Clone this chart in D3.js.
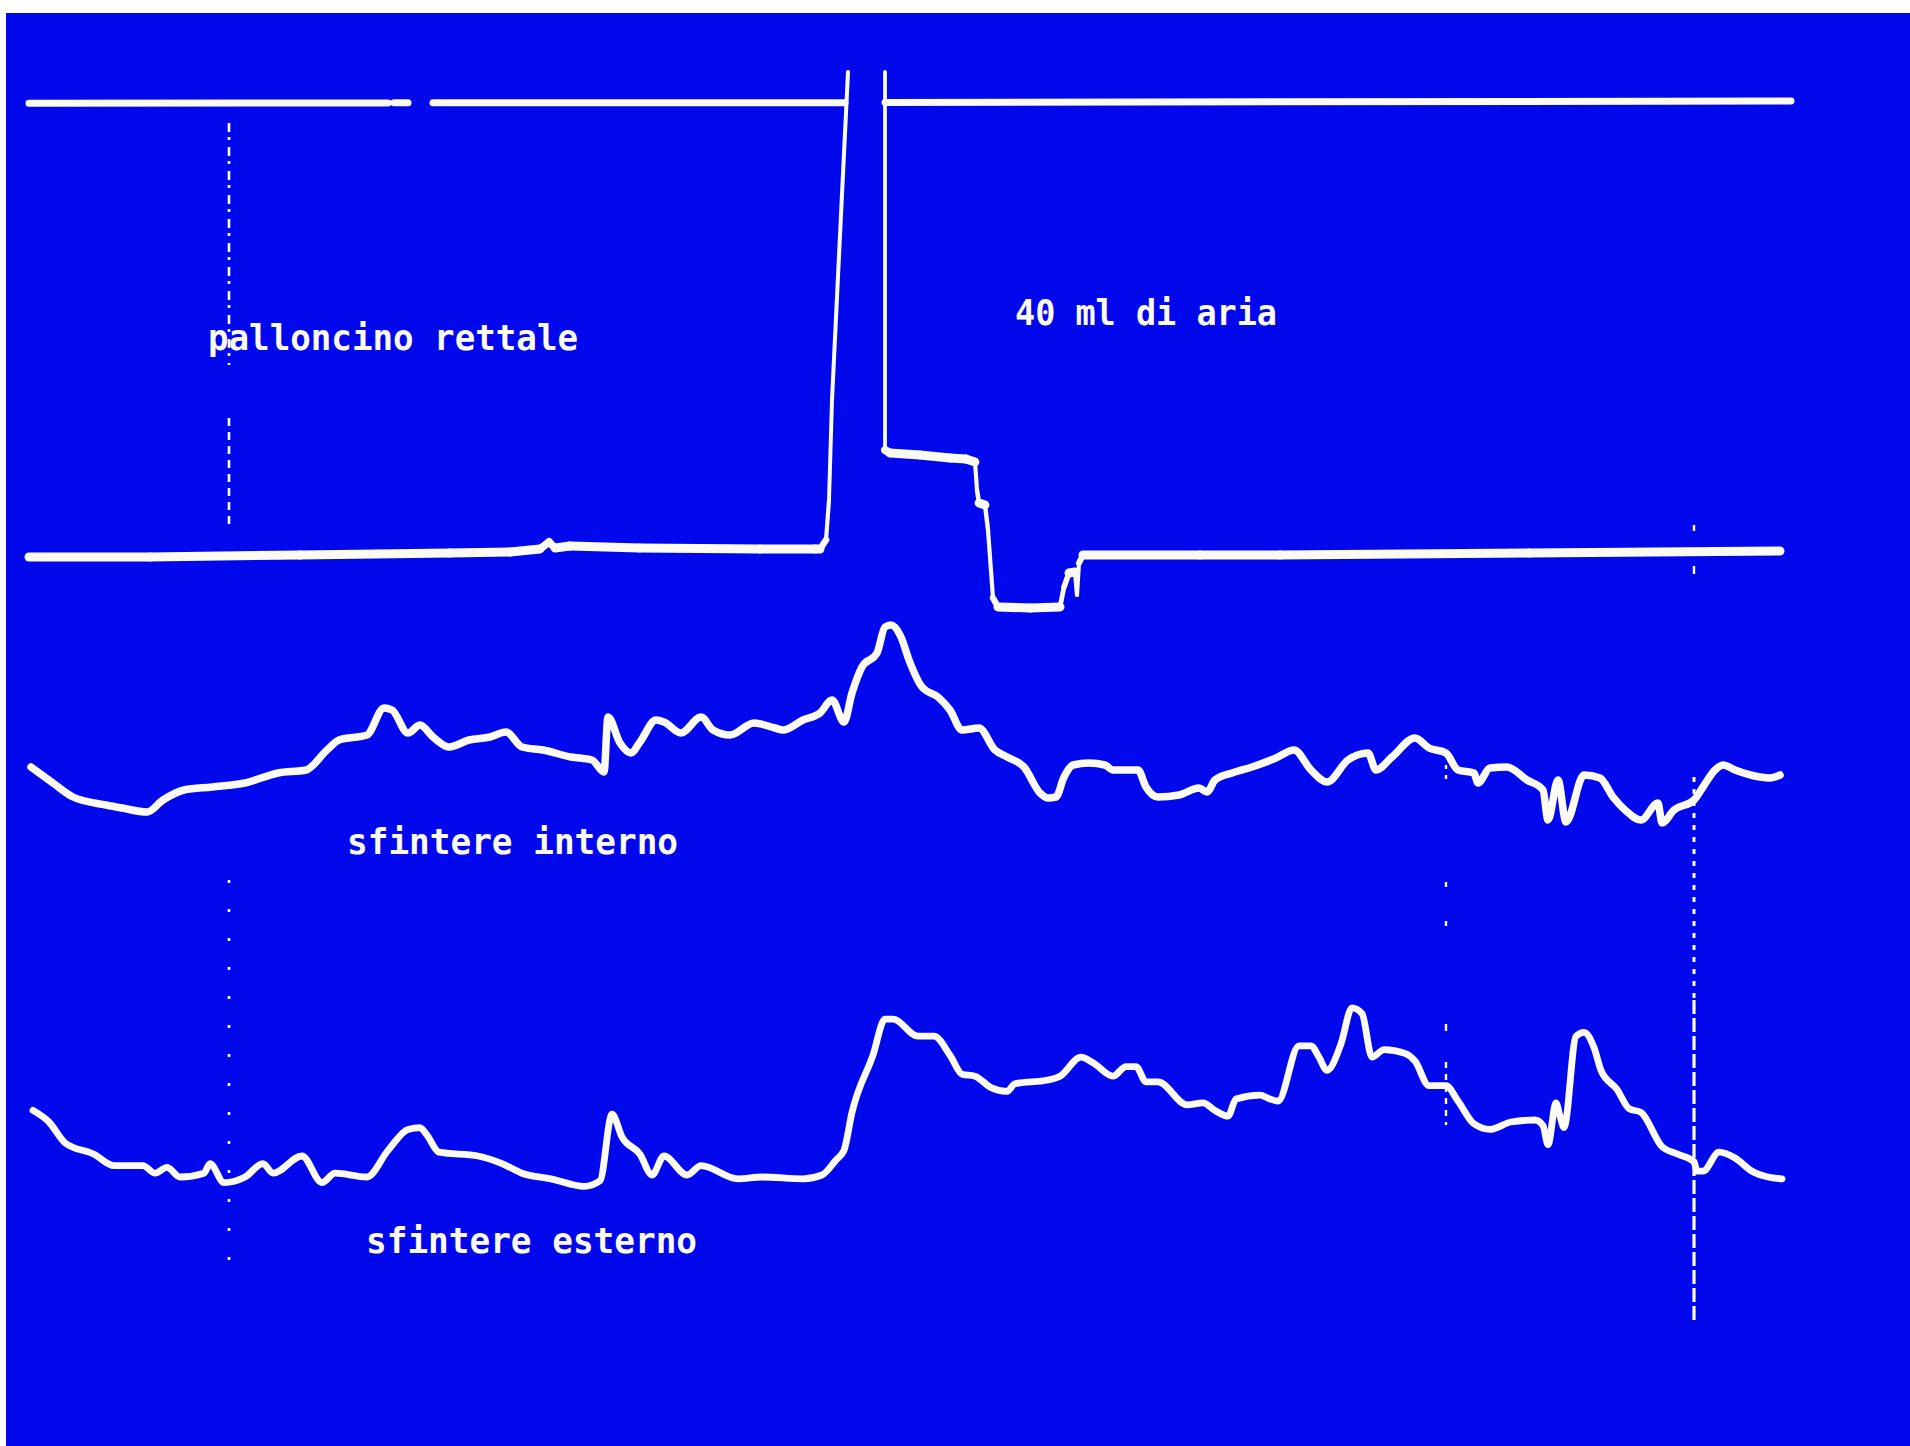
<!DOCTYPE html>
<html>
<head>
<meta charset="utf-8">
<script src="https://cdn.jsdelivr.net/npm/d3@7"></script>
<style>
  html, body { margin: 0; padding: 0; background: #fff; }
  svg { display: block; }
</style>
</head>
<body>
<div id="chart"></div>
<script>
const rettale = [
  [0, 0.75], [6.05, 0.75], [13.55, 1.25], [21.05, 1.75], [24.05, 2.0], [25.55, 2.75], [26.0, 4.5],
  [26.3, 3.0], [27.05, 3.5], [30.55, 3.0], [36.55, 2.75], [39.3, 2.75], [39.55, 2.75], [39.85, 5],
  [40.0, 15], [40.15, 40], [40.55, 81.25], [40.95, 122], [41.9, null], [42.8, 122], [42.8, 27.5],
  [43.05, 26.75], [44.55, 26.25], [46.05, 25.5], [46.85, 25.25], [47.3, 24.5], [47.4, 17.5],
  [47.5, 14.25], [47.8, 13.75], [47.95, 7.5], [48.2, -9.5], [48.45, -11.75], [50.05, -12],
  [51.55, -11.75], [51.75, -6.75], [52.0, -3.25], [52.3, -3], [52.4, -8.75], [52.5, -0.75],
  [52.7, 1.25], [58.55, 1.25], [62.55, 1.25], [75.0, 1.75], [87.55, 2.25]
];

// linea di fondo scala del primo canale
const limite = [
  [0, 114.2], [17.95, 114.25], [18.1, null], [18.25, 114.3], [18.95, 114.3], [19.1, null],
  [20.2, 114.3], [40.8, 114.3], [41.5, null], [42.8, 114.4], [88.1, 114.75]
];

const interno = [
  [0.1, 31.5], [1.2, 23.5], [2.2, 16.5], [3.85, 12.5], [4.65, 11], [5.9, 9], [6.7, 15], [7.75, 20],
  [9.15, 21.5], [10.8, 23.5], [12.45, 28.5], [13.85, 30], [14.9, 40], [15.5, 45], [16.9, 47.5],
  [17.75, 61], [18.15, 60], [18.95, 48.5], [19.55, 52.5], [20.2, 46.5], [21.0, 41.5], [22.0, 45],
  [23.05, 46.5], [23.85, 49], [24.65, 41.5], [25.7, 40], [27.1, 36.5], [28.15, 35], [28.75, 29],
  [28.95, 56.5], [29.55, 43.5], [30.1, 38.5], [30.55, 44], [31.35, 55], [31.75, 54], [32.6, 48.5],
  [33.6, 56.5], [34.2, 50], [35.05, 47.5], [36.25, 53.5], [37.3, 51], [37.7, 50], [38.7, 55],
  [39.55, 58.5], [40.15, 65], [40.75, 54], [41.15, 68.5], [41.65, 81.5], [42.4, 88.5], [42.8, 101.5],
  [43.1, 102.5], [43.6, 96.5], [44.0, 85], [44.65, 71.5], [45.45, 66.5], [46.05, 60], [46.65, 50],
  [47.5, 51], [48.3, 40], [48.9, 36.5], [49.75, 31.5], [50.55, 18.5], [50.95, 16], [51.35, 16.5],
  [51.75, 26.5], [52.2, 32.5], [53.0, 33.5], [53.8, 32.5], [54.2, 30], [55.05, 30], [55.45, 30],
  [55.85, 21.5], [56.45, 16.5], [57.5, 17.5], [58.5, 21], [58.9, 19], [59.3, 25], [60.15, 28.5],
  [61.15, 31.5], [62.35, 36], [63.25, 40], [64.1, 30], [64.9, 24], [65.95, 35], [66.95, 38.5],
  [67.35, 30], [68.15, 36.5], [69.3, 46], [70.0, 41], [70.85, 38.5], [71.45, 30], [72.25, 28.5],
  [72.45, 23.5], [73.05, 31], [73.9, 31.5], [74.9, 25], [75.7, 20], [75.95, 5], [76.45, 25],
  [76.85, 4], [77.75, 27.5], [78.55, 26], [79.2, 16.5], [79.8, 10], [80.6, 5], [81.45, 13.5],
  [81.65, 3.5], [82.25, 10], [83.25, 15], [83.7, 21.5], [84.3, 30], [84.7, 32.5], [85.3, 30],
  [86.55, 26.5], [87.05, 26], [87.55, 27.5]
];

const esterno = [
  [0.2, 44.8], [1.0, 39], [1.8, 28.6], [3.25, 22.9], [4.25, 17.2], [5.7, 17.2], [6.3, 13.4],
  [6.9, 16.3], [7.55, 11.5], [8.75, 13.4], [9.05, 18.2], [9.75, 8.7], [10.8, 11.5], [11.7, 18.2],
  [12.2, 13.4], [13.65, 22], [14.65, 8.7], [15.3, 13.4], [16.9, 11.5], [17.95, 24.8], [18.95, 35.3],
  [19.55, 36.2], [19.9, 32.4], [20.5, 23.9], [22.45, 22], [23.65, 18.2], [24.65, 13.4], [26.1, 10.6],
  [27.75, 6.8], [28.55, 9.6], [29.15, 42.9], [29.65, 31.5], [30.55, 22.9], [31.15, 12.5], [31.75, 22],
  [32.9, 12.5], [33.6, 17.2], [35.45, 10.6], [36.65, 11.5], [38.7, 10.6], [39.65, 12.5], [40.35, 20],
  [40.75, 24.8], [41.15, 43.8], [42.2, 72.4], [42.8, 90.4], [43.2, 90.4], [44.45, 81.9], [45.25, 81.9],
  [46.05, 72.4], [46.65, 62.9], [47.3, 61.9], [48.1, 56.2], [48.9, 54.3], [49.3, 58.1], [50.95, 60],
  [51.55, 61.9], [52.6, 71.4], [53.2, 68.6], [54.2, 61.9], [54.85, 66.7], [55.35, 66.7], [55.85, 59.1],
  [56.45, 59.1], [57.9, 47.6], [58.7, 48.6], [59.3, 44.8], [59.95, 41.9], [60.35, 50.5], [61.55, 52.4],
  [62.05, 50.5], [62.45, 49.5], [63.5, 77.1], [64.1, 77.1], [64.5, 71.4], [64.9, 64.8], [65.6, 78.1],
  [66.15, 96.1], [66.65, 93.3], [67.15, 71.4], [67.75, 75.2], [68.8, 73.3], [69.3, 69.5], [70.0, 57.2],
  [70.85, 57.2], [71.45, 49.5], [72.25, 38.1], [73.05, 35.3], [74.1, 39], [75.3, 40], [75.7, 37.2],
  [75.95, 27.7], [76.35, 48.6], [76.55, 41.9], [76.75, 36.2], [77.35, 81.9], [77.75, 83.8],
  [78.25, 76.2], [78.6, 64.8], [79.4, 55.3], [80.0, 45.7], [80.6, 43.8], [81.65, 26.7], [82.45, 22.9],
  [83.25, 19.1], [83.4, 14.4], [83.7, 14.4], [84.5, 23.9], [85.3, 21], [86.15, 14.4], [86.95, 11.5],
  [87.65, 10.6]
];

// marcatori di evento (s)
const marcatori = [10, 70.85, 83.25];

const etichette = ['palloncino rettale', '40 ml di aria', 'sfintere interno', 'sfintere esterno'];

const W = 1910, H = 1446;
const svg = d3.select('#chart').append('svg')
  .attr('width', W)
  .attr('height', H);

// schermo blu
svg.append('rect').attr('width', W).attr('height', H).attr('fill', '#ffffff');
svg.append('rect')
  .attr('x', 6).attr('y', 13)
  .attr('width', W - 6).attr('height', H - 13)
  .attr('fill', '#0208ec');

const x = d3.scaleLinear().domain([0, 87.6]).range([29, 1781]);
const yRettale = d3.scaleLinear().domain([0, 100]).range([560, 160]);
const yInterno = d3.scaleLinear().domain([0, 100]).range([830, 630]);
const yEsterno = d3.scaleLinear().domain([0, 100]).range([1200, 1000]);

const ink = '#fbfbf2';
const line = d3.line();

// canale 1: il pennino diventa piu sottile sui tratti ripidi
const drawSteps = (data, y, baseWidth) => {
  const g = svg.append('g')
    .attr('fill', 'none')
    .attr('stroke', ink)
    .attr('stroke-linecap', 'round')
    .attr('stroke-linejoin', 'round');
  const pts = data.map(d => d[1] == null ? null : [x(d[0]), y(d[1])]);
  for (let i = 1; i < pts.length; i++) {
    const a = pts[i - 1], b = pts[i];
    if (!a || !b) continue;
    const dx = b[0] - a[0], dy = b[1] - a[1];
    const len = Math.hypot(dx, dy) || 1;
    const w = baseWidth * (0.42 + 0.58 * Math.abs(dx) / len);
    g.append('path')
      .attr('d', line([a, b]))
      .attr('stroke-width', w);
  }
};

// canali degli sfinteri: tracciato continuo
const drawSmooth = (data, y, width) => {
  const smooth = d3.line()
    .x(d => x(d[0]))
    .y(d => y(d[1]))
    .curve(d3.curveMonotoneX);
  svg.append('path')
    .datum(data)
    .attr('d', smooth)
    .attr('fill', 'none')
    .attr('stroke', ink)
    .attr('stroke-width', width)
    .attr('stroke-linecap', 'round')
    .attr('stroke-linejoin', 'round');
};

// marcatori verticali tratteggiati
const markerStyle = [
  [{ s: [123, 365], dash: '9 5 3 7', w: 2.6 }, { s: [418, 525], dash: '8 6', w: 2.6 },
   { s: [880, 1262], dash: '3 26', w: 2.6 }],
  [{ s: [765, 782], dash: '4 6', w: 2.4 }, { s: [882, 942], dash: '5 34', w: 2.4 },
   { s: [1024, 1031], dash: '7', w: 2.4 }, { s: [1062, 1125], dash: '6 6', w: 2.4 }],
  [{ s: [525, 531], dash: '6', w: 2.4 }, { s: [566, 574], dash: '8', w: 2.4 },
   { s: [777, 1000], dash: '5 7', w: 3 }, { s: [1000, 1323], dash: '14 4', w: 3.2 }]
];
marcatori.forEach((t, i) => {
  markerStyle[i].forEach(st => {
    svg.append('line')
      .attr('x1', x(t)).attr('x2', x(t))
      .attr('y1', st.s[0]).attr('y2', st.s[1])
      .attr('stroke', ink)
      .attr('stroke-width', st.w)
      .attr('stroke-dasharray', st.dash);
  });
});

drawSteps(limite, yRettale, 7);
drawSteps(rettale, yRettale, 9);
drawSmooth(interno, yInterno, 7.5);
drawSmooth(esterno, yEsterno, 6.8);

// etichette
const labelPos = [
  { x: 208, y: 350, len: 370 },
  { x: 1015, y: 325, len: 262 },
  { x: 347, y: 854, len: 331 },
  { x: 366, y: 1253, len: 331 }
];
etichette.forEach((txt, i) => {
  const p = labelPos[i];
  svg.append('text')
    .attr('x', p.x)
    .attr('y', p.y)
    .attr('textLength', p.len)
    .attr('lengthAdjust', 'spacingAndGlyphs')
    .attr('fill', ink)
    .style('font-family', '"DejaVu Sans Mono", monospace')
    .style('font-weight', 'bold')
    .style('font-size', '36px')
    .text(txt);
});
</script>
</body>
</html>
